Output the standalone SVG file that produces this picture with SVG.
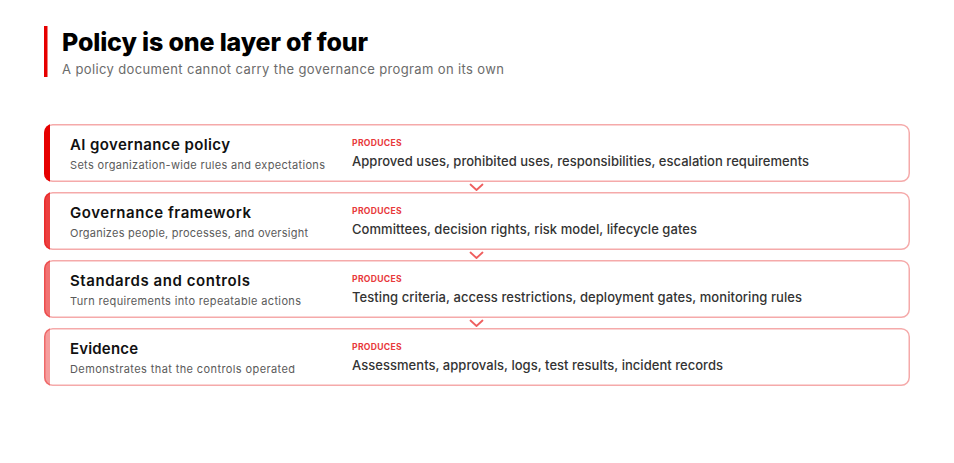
<svg xmlns="http://www.w3.org/2000/svg" width="954" height="463" viewBox="0 0 954 463">
<style>
text{font-family:Inter,"Open Sans","Liberation Sans",sans-serif}
.title{font-size:25px;font-weight:800;fill:#000}
.sub{font-size:13px;font-weight:400;fill:#6b6b6b}
.card{fill:#fff;stroke:#f5aaaa;stroke-width:1.5}
.ct{font-size:15px;font-weight:600;fill:#111}
.cs{font-size:11px;font-weight:400;fill:#5a5a5a}
.pr{font-size:8.6px;font-weight:700;fill:#e8393b;letter-spacing:0.3px}
.out{font-size:13px;font-weight:500;fill:#333}
.chev{fill:none;stroke:#ef5e5e;stroke-width:1.8;stroke-linecap:round;stroke-linejoin:round}
</style>
<defs>
<clipPath id="c1"><rect x="44" y="124" width="866" height="58" rx="8.5"/></clipPath>
<clipPath id="c2"><rect x="44" y="192" width="866" height="58" rx="8.5"/></clipPath>
<clipPath id="c3"><rect x="44" y="260" width="866" height="58" rx="8.5"/></clipPath>
<clipPath id="c4"><rect x="44" y="328" width="866" height="58" rx="8.5"/></clipPath>
</defs>
<rect width="954" height="463" fill="#fff"/>
<g id="header">
<rect x="44" y="26" width="3.5" height="51" fill="#e60000"/>
<text class="title" x="62" y="51" textLength="306">Policy is one layer of four</text>
<text class="sub" x="62" y="74" textLength="442">A policy document cannot carry the governance program on its own</text>
</g>
<g id="connectors">
<polyline class="chev" points="470.5,184.5 476.5,190 482.5,184.5"/>
<polyline class="chev" points="470.5,252.5 476.5,258 482.5,252.5"/>
<polyline class="chev" points="470.5,320.5 476.5,326 482.5,320.5"/>
</g>
<g id="node-policy">
<rect class="card" x="44.75" y="124.75" width="864.5" height="56.5" rx="8"/>
<rect x="44" y="124" width="6" height="58" fill="#e60000" clip-path="url(#c1)"/>
<text class="ct" x="70" y="150" textLength="160">AI governance policy</text>
<text class="cs" x="70" y="169" textLength="255">Sets organization-wide rules and expectations</text>
<text class="pr" x="352" y="145.7" textLength="50">PRODUCES</text>
<text class="out" x="352" y="165.7" textLength="457">Approved uses, prohibited uses, responsibilities, escalation requirements</text>
</g>
<g id="node-framework">
<rect class="card" x="44.75" y="192.75" width="864.5" height="56.5" rx="8"/>
<rect x="44" y="192" width="6" height="58" fill="#e60000" fill-opacity="0.75" clip-path="url(#c2)"/>
<text class="ct" x="70" y="218" textLength="181">Governance framework</text>
<text class="cs" x="70" y="237" textLength="238">Organizes people, processes, and oversight</text>
<text class="pr" x="352" y="213.7" textLength="50">PRODUCES</text>
<text class="out" x="352" y="233.7" textLength="345">Committees, decision rights, risk model, lifecycle gates</text>
</g>
<g id="node-standards">
<rect class="card" x="44.75" y="260.75" width="864.5" height="56.5" rx="8"/>
<rect x="44" y="260" width="6" height="58" fill="#e60000" fill-opacity="0.55" clip-path="url(#c3)"/>
<text class="ct" x="70" y="286" textLength="180">Standards and controls</text>
<text class="cs" x="70" y="305" textLength="231">Turn requirements into repeatable actions</text>
<text class="pr" x="352" y="281.7" textLength="50">PRODUCES</text>
<text class="out" x="352" y="301.7" textLength="450">Testing criteria, access restrictions, deployment gates, monitoring rules</text>
</g>
<g id="node-evidence">
<rect class="card" x="44.75" y="328.75" width="864.5" height="56.5" rx="8"/>
<rect x="44" y="328" width="6" height="58" fill="#e60000" fill-opacity="0.38" clip-path="url(#c4)"/>
<text class="ct" x="70" y="354" textLength="68">Evidence</text>
<text class="cs" x="70" y="373" textLength="225">Demonstrates that the controls operated</text>
<text class="pr" x="352" y="349.7" textLength="50">PRODUCES</text>
<text class="out" x="352" y="369.7" textLength="371">Assessments, approvals, logs, test results, incident records</text>
</g>
</svg>
